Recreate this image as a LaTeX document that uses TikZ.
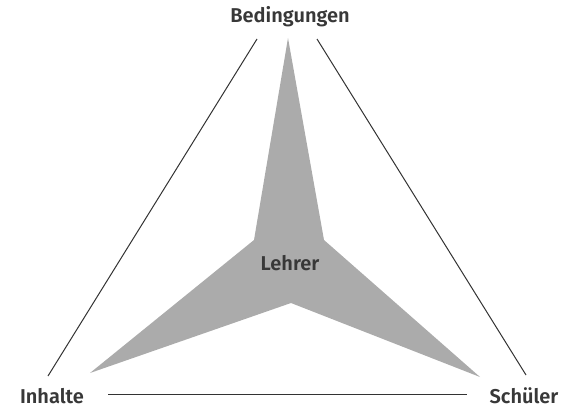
\documentclass[tikz,border=0pt]{standalone}
\usepackage{fontspec}
\setmainfont{Fira Sans SemiBold}
\begin{document}
\begin{tikzpicture}[x=1pt,y=-1pt,
  lbl/.style={font=\fontsize{20}{24}\selectfont, text=black!78, inner sep=0pt, anchor=base},
  edge/.style={draw=black!80, line width=1pt},
  star/.style={fill=black!33, draw=none}]
\useasboundingbox (0,0) rectangle (573,412);
% star (Lehrer)
\fill[star] (288,38) -- (324,240) -- (480,377) -- (291,303) -- (90,373) -- (254,240) -- cycle;
% labels
\node[lbl] (B) at (290,23) {Bedingungen};
\node[lbl] (L) at (290,270) {Lehrer};
\node[lbl] (I) at (52,403) {Inhalte};
\node[lbl] (S) at (524,403) {Schüler};
% connector ends
\coordinate (b1) at (257,39);
\coordinate (i1) at (48,376);
\coordinate (b2) at (317,39);
\coordinate (s1) at (526,375);
\coordinate (i2) at (108,394);
\coordinate (s2) at (467,394);
\draw[edge] (b1) -- (i1);
\draw[edge] (b2) -- (s1);
\draw[edge] (i2) -- (s2);
\end{tikzpicture}
\end{document}
